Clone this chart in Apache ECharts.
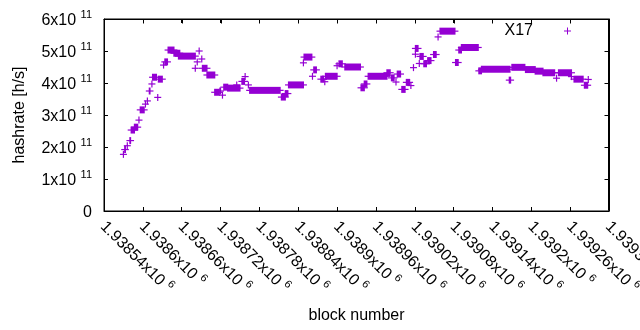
<!DOCTYPE html>
<html>
<head>
<meta charset="utf-8">
<script src="https://cdn.jsdelivr.net/npm/echarts@6/dist/echarts.min.js"></script>
<style>
  html, body { margin: 0; padding: 0; background: #fff; }
  #chart { width: 640px; height: 330px; }
</style>
</head>
<body>
<div id="chart"></div>
<script>
// runs of blocks with the same hashrate (single points have start == end)
const blockStart = [
  1938570, 1938572, 1938576, 1938580, 1938582, 1938587, 1938594, 1938596, 1938604, 1938607,
  1938610, 1938614, 1938615, 1938623, 1938624, 1938632, 1938634, 1938639, 1938648, 1938655,
  1938681, 1938684, 1938687, 1938691, 1938692, 1938699, 1938711, 1938719, 1938723, 1938725,
  1938731, 1938745, 1938753, 1938758, 1938763, 1938765, 1938814, 1938820, 1938825, 1938848,
  1938849, 1938862, 1938864, 1938875, 1938881, 1938882, 1938900, 1938903, 1938912, 1938937,
  1938942, 1938948, 1938977, 1938984, 1938991, 1938993, 1939000, 1939007, 1939014, 1939018,
  1939021, 1939021, 1939027, 1939028, 1939034, 1939040, 1939049, 1939056, 1939059, 1939083,
  1939088, 1939092, 1939119, 1939123, 1939166, 1939170, 1939191, 1939206, 1939218, 1939239,
  1939242, 1939262, 1939266, 1939282, 1939288
]
const blockEnd = [
  1938570, 1938573, 1938576, 1938581, 1938587, 1938592, 1938594, 1938602, 1938604, 1938607,
  1938611, 1938614, 1938621, 1938623, 1938630, 1938632, 1938638, 1938648, 1938657, 1938681,
  1938681, 1938684, 1938687, 1938691, 1938699, 1938711, 1938718, 1938720, 1938723, 1938731,
  1938750, 1938745, 1938757, 1938758, 1938763, 1938812, 1938820, 1938824, 1938848, 1938848,
  1938861, 1938862, 1938868, 1938879, 1938881, 1938900, 1938900, 1938908, 1938936, 1938942,
  1938946, 1938977, 1938982, 1938988, 1938991, 1938998, 1939005, 1939012, 1939014, 1939018,
  1939021, 1939025, 1939027, 1939033, 1939038, 1939045, 1939053, 1939056, 1939082, 1939087,
  1939092, 1939118, 1939123, 1939167, 1939168, 1939190, 1939206, 1939218, 1939236, 1939239,
  1939262, 1939262, 1939280, 1939287, 1939288
]
const hashrate = [
  1.77e11, 1.92e11, 2.04e11, 2.20e11, 2.53e11, 2.62e11, 2.84e11, 3.16e11, 3.34e11, 3.44e11,
  3.75e11, 3.97e11, 4.18e11, 3.55e11, 4.12e11, 4.56e11, 4.66e11, 5.03e11, 4.93e11, 4.84e11,
  4.46e11, 4.66e11, 5.00e11, 4.75e11, 4.46e11, 4.25e11, 3.71e11, 3.75e11, 3.62e11, 3.87e11,
  3.84e11, 3.94e11, 4.05e11, 4.20e11, 3.94e11, 3.77e11, 3.56e11, 3.67e11, 3.94e11, 4.63e11,
  4.81e11, 4.21e11, 4.41e11, 4.12e11, 4.04e11, 4.21e11, 4.54e11, 4.60e11, 4.50e11, 3.85e11,
  3.97e11, 4.21e11, 4.32e11, 4.16e11, 4.03e11, 4.28e11, 3.80e11, 4.02e11, 3.92e11, 4.48e11,
  4.90e11, 5.08e11, 4.61e11, 4.83e11, 4.60e11, 4.70e11, 4.89e11, 5.44e11, 5.62e11, 4.64e11,
  5.03e11, 5.11e11, 4.38e11, 4.43e11, 4.09e11, 4.49e11, 4.42e11, 4.37e11, 4.32e11, 4.15e11,
  4.32e11, 4.20e11, 4.12e11, 3.93e11, 4.11e11
]

const xMin = 1938540, xMax = 1939320, xStep = 60
const yMin = 0, yMax = 6e11, yStep = 1e11

const purple = '#9400d3'
const font = 'Liberation Sans'
const arm = 3.5

const chart = echarts.init(document.getElementById('chart'))

// every run drawn as a row of '+' marks
function renderRun(params, api) {
    const v = api.value(2)
    const a = api.coord([api.value(0), v])
    const b = api.coord([api.value(1), v])
    return {
        type: 'group',
        children: [
            {
                type: 'rect',
                shape: { x: a[0] - 0.6, y: a[1] - arm, width: b[0] - a[0] + 1.2, height: arm * 2 },
                style: { fill: purple }
            },
            {
                type: 'line',
                shape: { x1: a[0] - arm, y1: a[1], x2: b[0] + arm, y2: b[1] },
                style: { stroke: purple, lineWidth: 1.2 }
            }
        ]
    }
}

// gnuplot style box: top/right border with mirrored inward ticks
function renderFrame(params, api) {
    const tl = api.coord([xMin, yMax])
    const br = api.coord([xMax, yMin])
    const x0 = Math.round(tl[0]) + 0.5, y0 = Math.round(tl[1]) + 0.5
    const x1 = Math.round(br[0]) - 0.5, y1 = Math.round(br[1]) - 0.5
    const ink = { stroke: '#000', lineWidth: 1 }
    const kids = [
        { type: 'line', shape: { x1: x0, y1: y0, x2: x1, y2: y0 }, style: ink },
        { type: 'line', shape: { x1: x1, y1: y0, x2: x1, y2: y1 }, style: ink }
    ]
    for (let x = xMin; x <= xMax; x += xStep) {
        const px = Math.round(api.coord([x, yMax])[0]) + 0.5
        kids.push({ type: 'line', shape: { x1: px, y1: y0, x2: px, y2: y0 + 4 }, style: ink })
    }
    for (let y = yMin; y <= yMax; y += yStep) {
        const py = Math.round(api.coord([xMax, y])[1]) + 0.5
        kids.push({ type: 'line', shape: { x1: x1, y1: py, x2: x1 - 4, y2: py }, style: ink })
    }
    return { type: 'group', children: kids }
}

const tick = { show: true, inside: true, length: 4, lineStyle: { color: '#000' } }
const line = { show: true, onZero: false, lineStyle: { color: '#000', width: 1 } }
// "Nx10" with a raised exponent
const supRich = {
    m: { fontFamily: font, fontSize: 16, color: '#000', lineHeight: 19, verticalAlign: 'bottom' },
    s: { fontFamily: font, fontSize: 11, color: '#000', lineHeight: 8, verticalAlign: 'top' }
}

const option = {
    animation: false,
    grid: {
        left: 104, right: 31, top: 19, bottom: 119, containLabel: false, outerBoundsMode: 'none',
        show: true, borderColor: '#000', borderWidth: 1
    },
    legend: {
        right: 69, top: 23, padding: 0, itemWidth: 7, itemHeight: 7, align: 'right',
        selectedMode: false,
        data: [{ name: 'X17', icon: 'path://M3,0h1v3h3v1h-3v3h-1v-3h-3v-1h3z' }],
        formatter: '{t|{name}}',
        textStyle: {
            color: '#000', fontFamily: font, fontSize: 16,
            rich: { t: { color: '#000', fontFamily: font, fontSize: 16, padding: [0, 26, 0, 0] } }
        }
    },
    xAxis: [{
        type: 'value', min: xMin, max: xMax, interval: xStep,
        axisLine: line, axisTick: tick, splitLine: { show: false },
        axisLabel: {
            rotate: -45, margin: 12, color: '#000', fontFamily: font, fontSize: 16,
            formatter: v => '{m|' + parseFloat((v / 1e6).toFixed(5)) + 'x10 }{s|6}',
            rich: supRich
        },
        name: 'block number', nameLocation: 'middle', nameGap: 97,
        nameTextStyle: { fontFamily: font, fontSize: 16, color: '#000' }
    }, {
        type: 'value', position: 'top', min: xMin, max: xMax, interval: xStep,
        axisLine: line, axisTick: tick, axisLabel: { show: false }, splitLine: { show: false }
    }],
    yAxis: [{
        type: 'value', min: yMin, max: yMax, interval: yStep,
        axisLine: line, axisTick: tick, splitLine: { show: false },
        axisLabel: {
            margin: 12, color: '#000', fontFamily: font, fontSize: 16,
            formatter: v => v === 0 ? '{m|0}' : '{m|' + Math.round(v / 1e11) + 'x10 }{s|11}',
            rich: supRich
        },
        name: 'hashrate [h/s]', nameLocation: 'middle', nameGap: 76,
        nameTextStyle: { fontFamily: font, fontSize: 16, color: '#000' }
    }, {
        type: 'value', position: 'right', min: yMin, max: yMax, interval: yStep,
        axisLine: line, axisTick: tick, axisLabel: { show: false }, splitLine: { show: false }
    }],
    series: [{
        name: 'X17',
        type: 'custom',
        renderItem: renderRun,
        itemStyle: { color: purple },
        encode: { x: [0, 1], y: 2 },
        data: blockStart.map((s, i) => [s, blockEnd[i], hashrate[i]])
    }, {
        type: 'custom',
        renderItem: renderFrame,
        silent: true,
        encode: { x: 0, y: 1 },
        data: [[xMin, yMin]]
    }]
}

chart.setOption(option)
</script>
</body>
</html>
